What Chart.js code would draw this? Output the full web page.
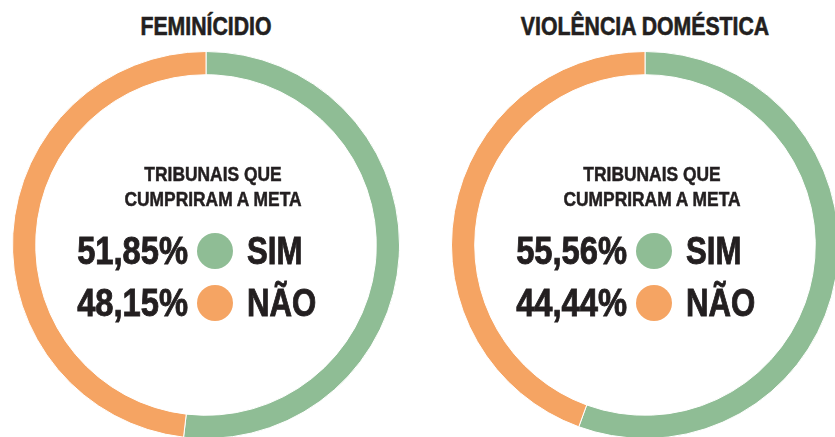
<!DOCTYPE html>
<html>
<head>
<meta charset="utf-8">
<script src="https://cdn.jsdelivr.net/npm/chart.js@4/dist/chart.umd.min.js"></script>
<style>
  html, body { margin:0; padding:0; background:#fff; }
  body { width:835px; height:437px; overflow:hidden; position:relative;
         font-family:"Liberation Sans", Arial, sans-serif;
         font-weight:bold; color:#231f20; }
  .wrap { position:absolute; width:388px; height:388px; top:51px; }
  .wrap canvas { display:block; }
  .title { position:absolute; top:10px; width:400px; text-align:center; font-size:25px; line-height:32px;
           transform:scaleX(0.85); transform-origin:center; -webkit-text-stroke:0.6px #231f20; }
  .sub { position:absolute; width:300px; text-align:center; font-size:20px; line-height:25px; top:162px;
         transform:scaleX(0.87); transform-origin:center; -webkit-text-stroke:0.5px #231f20; }
  .row { position:absolute; height:44px; line-height:44px; font-size:38px; white-space:nowrap;
         -webkit-text-stroke:0.9px #231f20; }
  .pct { text-align:right; width:200px; transform:scaleX(0.86); transform-origin:right center; }
  .lbl { transform:scaleX(0.82); transform-origin:left center; }
  .dot { position:absolute; width:36px; height:36px; border-radius:50%; }
</style>
</head>
<body>
<div id="root"></div>
<script>
// ── 데이터 ─────────────────────────────────────────
const titles     = ["FEMINÍCIDIO", "VIOLÊNCIA DOMÉSTICA"];
const labels     = ["SIM", "NÃO"];
const femValues  = [51.85, 48.15];
const violValues = [55.56, 44.44];
const colors     = ["#8fbd95", "#f5a463"];
const centersX   = [206, 645];
const subText    = ["TRIBUNAIS QUE", "CUMPRIRAM A META"];

const $root = document.getElementById("root");
const fmt = v => v.toFixed(2).replace(".", ",") + "%";

function addDonut(i, values) {
    const cx = centersX[i];
    // 도넛 캔버스
    const wrap = document.createElement("div");
    wrap.className = "wrap";
    wrap.style.left = (cx - 194) + "px";
    const cv = document.createElement("canvas");
    cv.width = 388; cv.height = 388;
    wrap.appendChild(cv);
    $root.appendChild(wrap);

    new Chart(cv.getContext("2d"), {
        type: "doughnut",
        data: { labels, datasets: [{ data: values, backgroundColor: colors,
                 borderColor: "#fff", borderWidth: 1 }] },
        options: {
            responsive: false, animation: false, cutout: "88%",
            layout: { padding: 0 },
            plugins: { legend: { display: false }, tooltip: { enabled: false } },
        },
    });

    // 제목
    const t = document.createElement("div");
    t.className = "title"; t.textContent = titles[i];
    t.style.left = (cx - 200) + "px";
    $root.appendChild(t);

    // 가운데 문구
    const s = document.createElement("div");
    s.className = "sub"; s.innerHTML = subText.join("<br>");
    s.style.left = (cx + 7 - 150) + "px";
    $root.appendChild(s);

    // 퍼센트 + 점 + 라벨
    const rowY = [251, 303];
    values.forEach((v, k) => {
        const pct = document.createElement("div");
        pct.className = "row pct"; pct.textContent = fmt(v);
        pct.style.left = (cx - 18 - 200) + "px";
        pct.style.top = (rowY[k] - 22) + "px";
        $root.appendChild(pct);

        const dot = document.createElement("div");
        dot.className = "dot"; dot.style.background = colors[k];
        dot.style.left = (cx + 9 - 18) + "px";
        dot.style.top = (rowY[k] - 18) + "px";
        $root.appendChild(dot);

        const lbl = document.createElement("div");
        lbl.className = "row lbl"; lbl.textContent = labels[k];
        lbl.style.left = (cx + 41) + "px";
        lbl.style.top = (rowY[k] - 22) + "px";
        $root.appendChild(lbl);
    });
}

addDonut(0, femValues);
addDonut(1, violValues);
</script>
</body>
</html>
